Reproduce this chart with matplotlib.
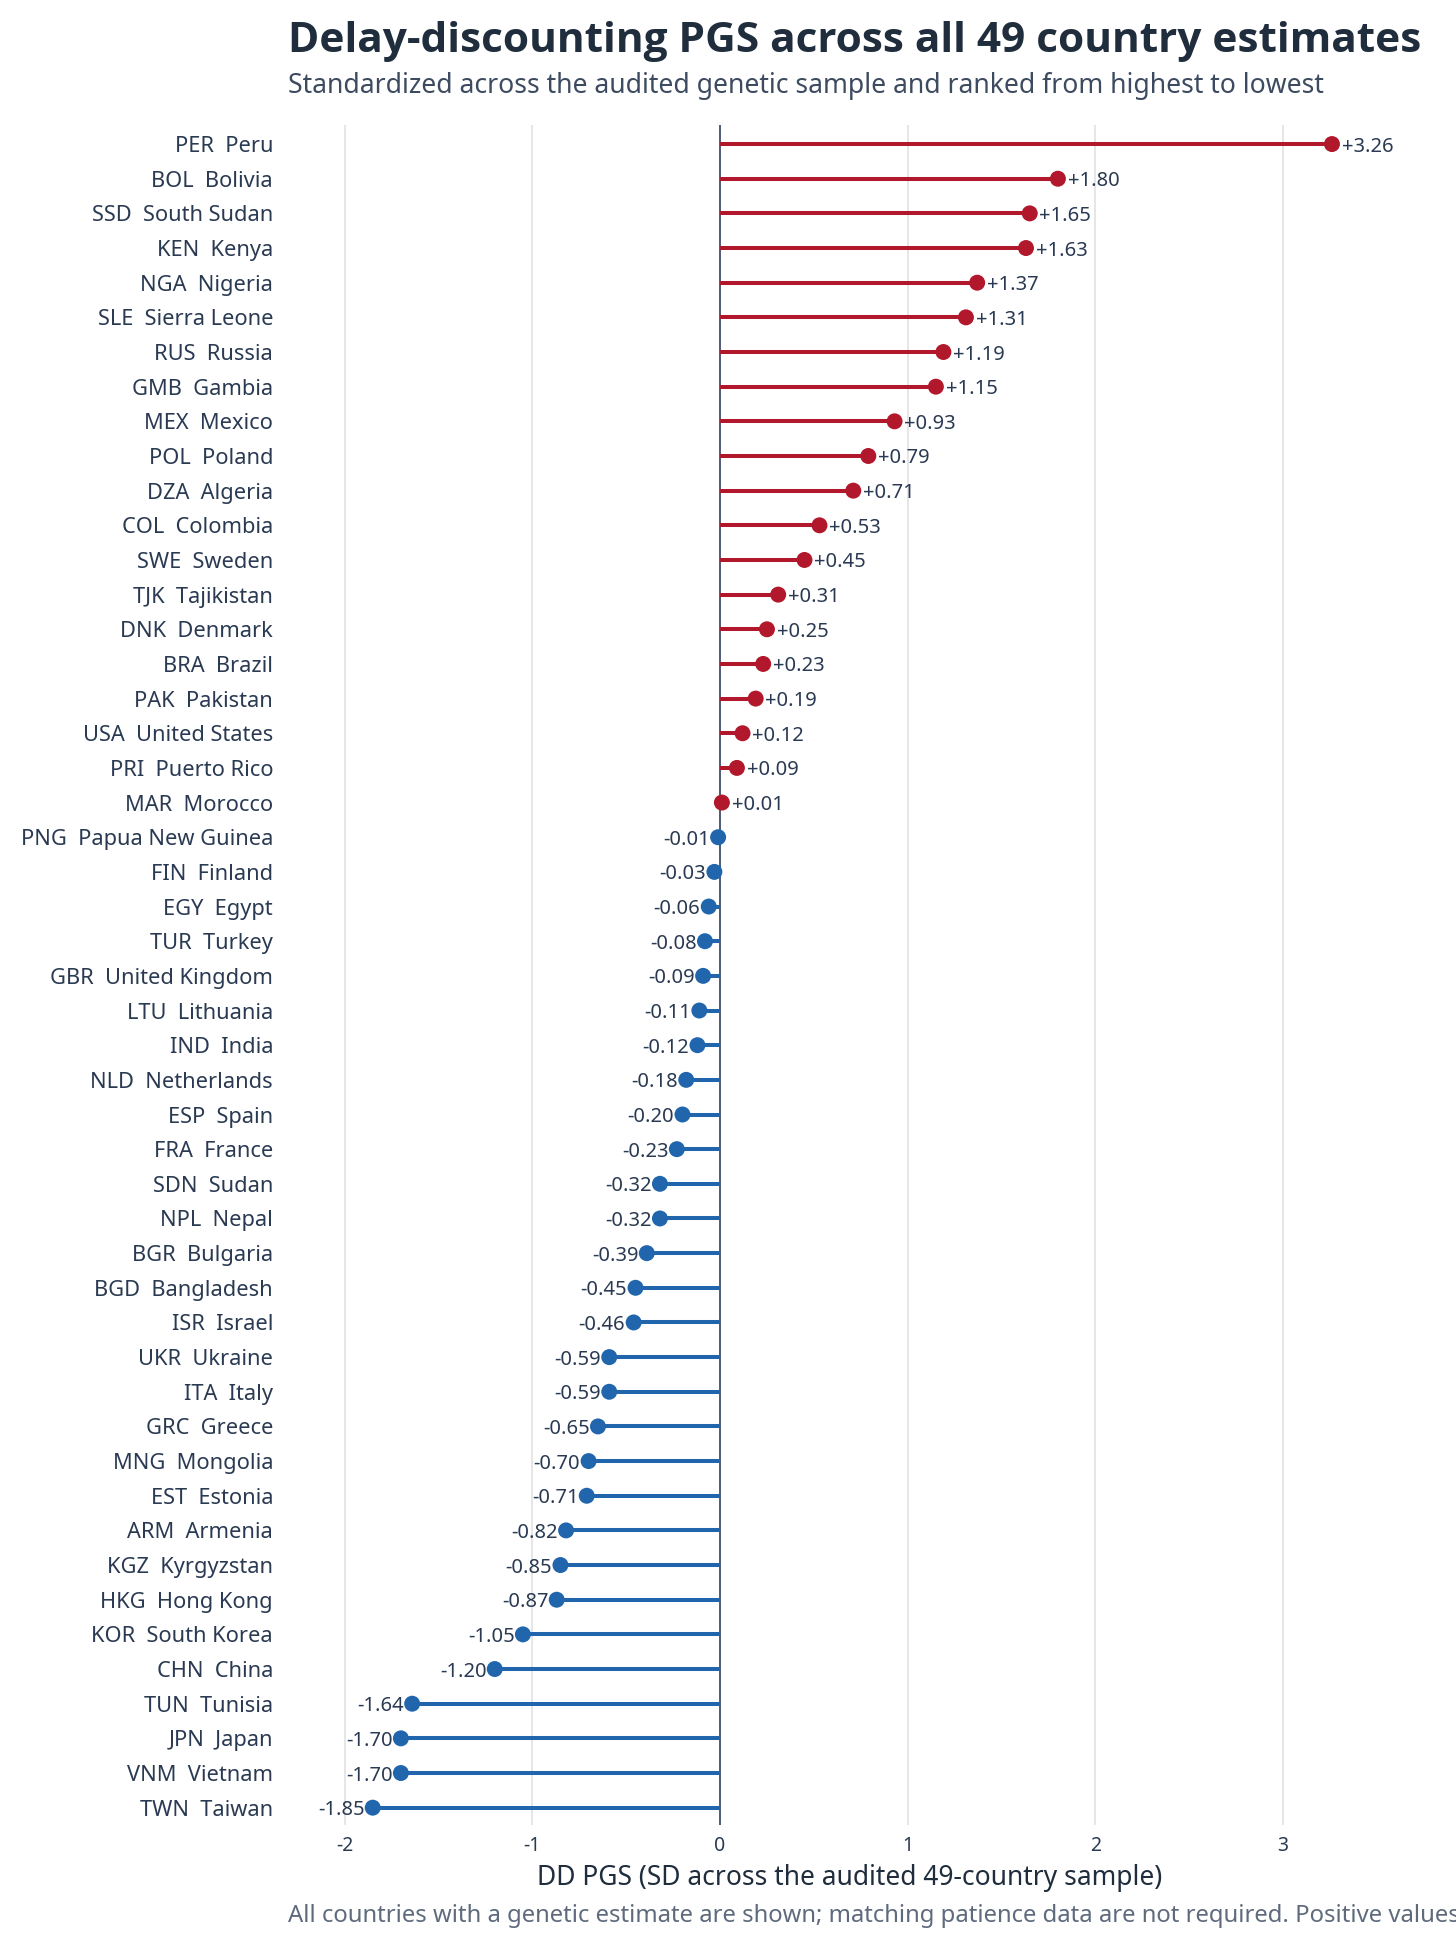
import numpy as np
import matplotlib
matplotlib.use('Agg')
import matplotlib.pyplot as plt
from matplotlib import font_manager

plt.rcParams['font.family'] = ['Noto Sans', 'DejaVu Sans']
plt.rcParams['axes.unicode_minus'] = False

codes = ['PER', 'BOL', 'SSD', 'KEN', 'NGA', 'SLE', 'RUS', 'GMB', 'MEX', 'POL',
         'DZA', 'COL', 'SWE', 'TJK', 'DNK', 'BRA', 'PAK', 'USA', 'PRI', 'MAR',
         'PNG', 'FIN', 'EGY', 'TUR', 'GBR', 'LTU', 'IND', 'NLD', 'ESP', 'FRA',
         'SDN', 'NPL', 'BGR', 'BGD', 'ISR', 'UKR', 'ITA', 'GRC', 'MNG', 'EST',
         'ARM', 'KGZ', 'HKG', 'KOR', 'CHN', 'TUN', 'JPN', 'VNM', 'TWN']
names = ['Peru', 'Bolivia', 'South Sudan', 'Kenya', 'Nigeria', 'Sierra Leone',
         'Russia', 'Gambia', 'Mexico', 'Poland', 'Algeria', 'Colombia', 'Sweden',
         'Tajikistan', 'Denmark', 'Brazil', 'Pakistan', 'United States',
         'Puerto Rico', 'Morocco', 'Papua New Guinea', 'Finland', 'Egypt',
         'Turkey', 'United Kingdom', 'Lithuania', 'India', 'Netherlands', 'Spain',
         'France', 'Sudan', 'Nepal', 'Bulgaria', 'Bangladesh', 'Israel', 'Ukraine',
         'Italy', 'Greece', 'Mongolia', 'Estonia', 'Armenia', 'Kyrgyzstan',
         'Hong Kong', 'South Korea', 'China', 'Tunisia', 'Japan', 'Vietnam', 'Taiwan']
pgs = [3.26, 1.80, 1.65, 1.63, 1.37, 1.31, 1.19, 1.15, 0.93, 0.79,
       0.71, 0.53, 0.45, 0.31, 0.25, 0.23, 0.19, 0.12, 0.09, 0.01,
       -0.01, -0.03, -0.06, -0.08, -0.09, -0.11, -0.12, -0.18, -0.20, -0.23,
       -0.32, -0.32, -0.39, -0.45, -0.46, -0.59, -0.59, -0.65, -0.70, -0.71,
       -0.82, -0.85, -0.87, -1.05, -1.20, -1.64, -1.70, -1.70, -1.85]
xticks = [-2, -1, 0, 1, 2, 3]

RED = '#b2182b'
BLUE = '#2166ac'
TEXT = '#2a3a52'

# bold title: use whichever family actually has a bold face
bold_fam = 'Noto Sans'
for fam in ['Noto Sans', 'Open Sans']:
    try:
        f = font_manager.findfont(font_manager.FontProperties(family=fam, weight='bold'),
                                  fallback_to_default=False)
        if 'bold' in f.lower():
            bold_fam = fam
            break
    except Exception:
        pass

W, H = 1456, 1951
fig = plt.figure(figsize=(W / 100, H / 100), dpi=100)
ax = fig.add_axes([280 / W, 1 - 1825 / H, 1140 / W, (1825 - 125) / H])

vals = np.array(pgs)
ypos = np.arange(len(vals))
cols = [RED if v > 0 else BLUE for v in vals]

for x in xticks:
    if x != 0:
        ax.axvline(x, color='#e6e6e6', lw=1.4, zorder=0)
ax.axvline(0, color='#4d5b78', lw=1.4, zorder=1)

ax.hlines(ypos, 0, vals, colors=cols, lw=2.9, zorder=2)
ax.scatter(vals, ypos, s=11.5 ** 2, c=cols, zorder=3, linewidths=0)

for y, v in zip(ypos, vals):
    if v > 0:
        ax.annotate('%+.2f' % v, (v, y), xytext=(7, 0), textcoords='offset points',
                    ha='left', va='center_baseline', fontsize=14.5, color=TEXT)
    else:
        ax.annotate('%.2f' % v, (v, y), xytext=(-6, 0), textcoords='offset points',
                    ha='right', va='center_baseline', fontsize=14.5, color=TEXT)

ax.set_xlim(-2.344, 3.729)
ax.set_ylim(48.5, -0.55)
ax.set_yticks(ypos)
ax.set_yticklabels([c + '  ' + n for c, n in zip(codes, names)], fontsize=15.7, color=TEXT)
ax.set_xticks(xticks)
ax.set_xticklabels([str(t) for t in xticks], fontsize=14, color=TEXT)
ax.tick_params(axis='both', length=0)
ax.tick_params(axis='y', pad=5)
ax.tick_params(axis='x', pad=8)
for s in ax.spines.values():
    s.set_visible(False)

ax.set_xlabel('DD PGS (SD across the audited 49-country sample)', fontsize=19,
              color='#1f2d3d', labelpad=6)

fig.text(288 / W, 1 - 52 / H, 'Delay-discounting PGS across all 49 country estimates',
         fontsize=30.5, fontweight='bold', family=bold_fam, color='#1f2d3d', va='baseline')
fig.text(288 / W, 1 - 93 / H, 'Standardized across the audited genetic sample and ranked from highest to lowest',
         fontsize=19.1, color='#3d4b60', va='baseline')
fig.text(288 / W, 1 - 1922 / H,
         'All countries with a genetic estimate are shown; matching patience data are not required. Positive values',
         fontsize=17.2, color='#5f6b7d', va='baseline')

fig.savefig('out.png', dpi=100, facecolor='white')
